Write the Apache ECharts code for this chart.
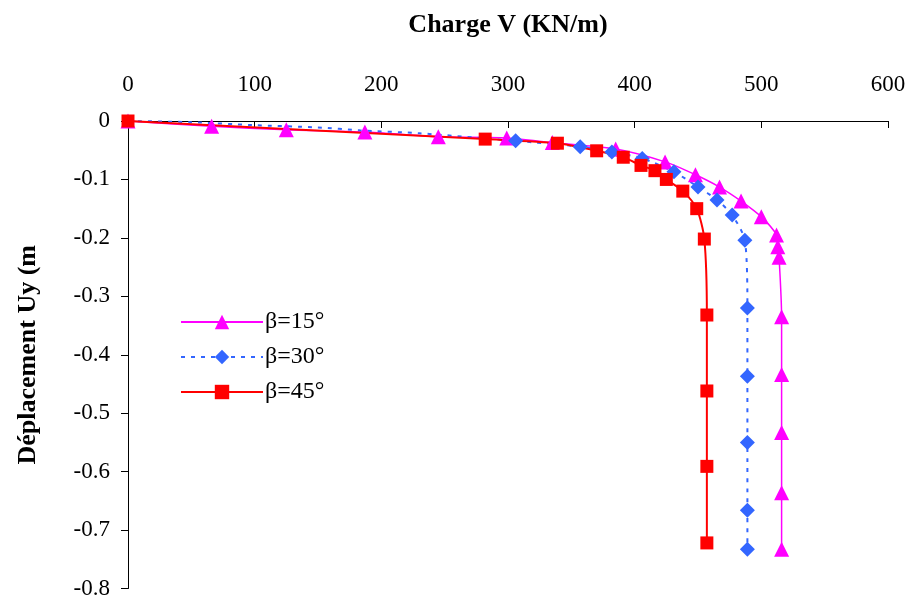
<!DOCTYPE html>
<html><head><meta charset="utf-8">
<script src="https://cdn.jsdelivr.net/npm/echarts@6/dist/echarts.min.js"></script>
<style>html,body{margin:0;padding:0;background:#fff}#c{width:910px;height:600px}</style>
</head><body><div id="c"></div>
<script>
// β=15°
const load15 = [0, 66, 125, 187, 245, 299, 335, 385, 424, 448, 467, 484, 500, 512, 513, 514, 516, 516, 516, 516, 516];
const disp15 = [0, -0.009, -0.015, -0.019, -0.027, -0.029, -0.037, -0.048, -0.070, -0.092, -0.113, -0.137, -0.164, -0.195, -0.215, -0.233, -0.335, -0.434, -0.533, -0.636, -0.733];
// β=30°
const load30 = [0, 50, 98, 150, 183, 230, 306, 357, 382, 406, 431, 450, 465, 477, 487, 489, 489, 489, 489, 489];
const disp30 = [0, -0.002, -0.007, -0.011, -0.016, -0.021, -0.034, -0.044, -0.053, -0.064, -0.087, -0.113, -0.135, -0.161, -0.204, -0.320, -0.437, -0.550, -0.666, -0.733];
// β=45°
const load45 = [0, 282, 339, 370, 391, 405, 416, 425, 438, 449, 455, 457, 457, 457, 457];
const disp45 = [0, -0.031, -0.038, -0.051, -0.062, -0.076, -0.085, -0.100, -0.120, -0.150, -0.202, -0.332, -0.462, -0.591, -0.722];
const seriesNames = ['β=15°', 'β=30°', 'β=45°'];
const xTicks = {min: 0, max: 600, interval: 100};
const yTicks = {min: -0.8, max: 0, interval: 0.1};

const zip = (a, b) => a.map((v, i) => [v, b[i]]);
const serif = '"Liberation Serif", "Times New Roman", serif';
// β=30° markers are hidden beneath the other series below ~300 kN/m
const blueData = zip(load30, disp30).map(p => p[0] >= 300 ? p : {value: p, symbol: 'none'});

const chart = echarts.init(document.getElementById('c'));
chart.setOption({
  animation: false,
  backgroundColor: '#fff',
  grid: {left: 128, top: 121, width: 760, height: 468, containLabel: false},
  legend: {
    orient: 'vertical', left: 175, top: 305, itemWidth: 82, itemHeight: 18, itemGap: 11,
    textStyle: {fontFamily: serif, fontSize: 24, color: '#000', padding: [0,0,0,-3]},
    data: seriesNames
  },
  xAxis: {
    type: 'value', position: 'top', min: xTicks.min, max: xTicks.max, interval: xTicks.interval,
    name: 'Charge V (KN/m)', nameLocation: 'middle', nameGap: 83,
    nameTextStyle: {fontFamily: serif, fontSize: 26, fontWeight: 'bold', color: '#000'},
    axisLine: {show: true, lineStyle: {color: '#000', width: 1}},
    axisTick: {show: true, inside: true, length: 7, lineStyle: {color: '#000'}},
    axisLabel: {fontFamily: serif, fontSize: 23, color: '#000', margin: 25},
    splitLine: {show: false}
  },
  yAxis: {
    type: 'value', min: yTicks.min, max: yTicks.max, interval: yTicks.interval,
    name: 'Déplacement Uy (m', nameLocation: 'middle', nameGap: 87, nameRotate: 90,
    nameTextStyle: {fontFamily: serif, fontSize: 26, fontWeight: 'bold', color: '#000'},
    axisLine: {show: true, lineStyle: {color: '#000', width: 1}},
    axisTick: {show: true, inside: false, length: 7, lineStyle: {color: '#000'}},
    axisLabel: {fontFamily: serif, fontSize: 23, color: '#000', margin: 18,
      formatter: v => (Math.round(v * 10) / 10).toString()},
    splitLine: {show: false}
  },
  series: [
    {name: seriesNames[0], type: 'line', data: zip(load15, disp15), smooth: 0.25,
     symbol: 'triangle', symbolSize: 15, color: '#FF00FF',
     lineStyle: {color: '#FF00FF', width: 1.5}, itemStyle: {color: '#FF00FF'}},
    {name: seriesNames[1], type: 'line', data: blueData, smooth: 0.25,
     symbol: 'diamond', symbolSize: 15, color: '#3366FF',
     lineStyle: {color: '#3366FF', width: 2, type: [4, 6]}, itemStyle: {color: '#3366FF'}},
    {name: seriesNames[2], type: 'line', data: zip(load45, disp45), smooth: 0.25,
     symbol: 'rect', symbolSize: 13, color: '#FF0000',
     lineStyle: {color: '#FF0000', width: 2}, itemStyle: {color: '#FF0000'}}
  ]
});
</script></body></html>
